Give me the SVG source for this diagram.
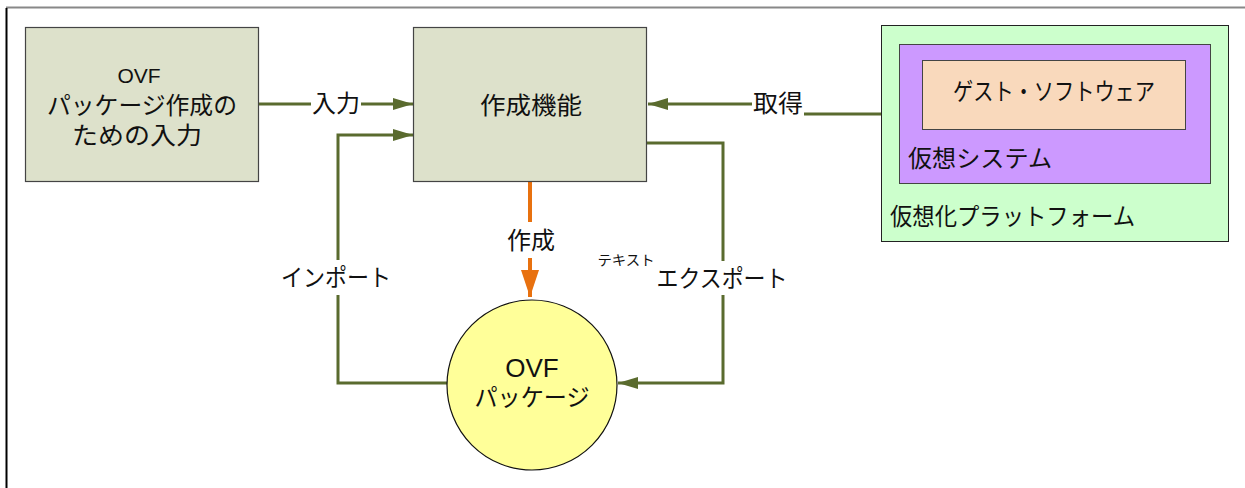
<svg xmlns="http://www.w3.org/2000/svg" width="1245" height="488" viewBox="0 0 1245 488">
<defs>
<style>
text{font-family:"Liberation Sans","Noto Sans CJK JP",sans-serif;fill:#111;font-size:24px;}
.mid{text-anchor:middle;}
.sm{font-size:14px;}
.ovf1{font-size:21px;}
.ovf2{font-size:26px;}
.box{fill:#dde1cb;stroke:#444;stroke-width:1.2;}
.g{fill:none;stroke:#5a6b2e;stroke-width:3;}
.o{fill:none;stroke:#e8710f;stroke-width:4;}
</style>
<marker id="ag" markerWidth="20" markerHeight="12" refX="20" refY="6" orient="auto" markerUnits="userSpaceOnUse">
<path d="M0,0 L20,6 L0,12 Z" fill="#5a6b2e"/>
</marker>
<marker id="ao" markerWidth="27" markerHeight="18" refX="27" refY="9" orient="auto" markerUnits="userSpaceOnUse">
<path d="M0,0 L27,9 L0,18 Z" fill="#e8710f"/>
</marker>
</defs>
<rect width="1245" height="488" fill="#fff"/>
<g id="frame">
<line x1="6" y1="7.5" x2="1245" y2="7.5" stroke="#888" stroke-width="2"/>
<line x1="6.5" y1="8" x2="6.5" y2="488" stroke="#000" stroke-width="2"/>
</g>
<g id="connectors">
<path class="g" d="M258,104 H311"/>
<path class="g" d="M361,104 H413" marker-end="url(#ag)"/>
<path class="g" d="M447,383 H338 V295"/>
<path class="g" d="M338,260 V135 H413" marker-end="url(#ag)"/>
<path class="g" d="M899,114 H804"/>
<path class="g" d="M752,104 H648" marker-end="url(#ag)"/>
<path class="g" d="M647,143 H723 V261"/>
<path class="g" d="M723,295 V383 H618" marker-end="url(#ag)"/>
<path class="o" d="M530,181 V222"/>
<path class="o" d="M530,258 V297" marker-end="url(#ao)"/>
<text class="mid" x="336" y="112" textLength="48" lengthAdjust="spacingAndGlyphs">入力</text>
<text class="mid" x="778" y="112" textLength="50" lengthAdjust="spacingAndGlyphs">取得</text>
<text class="mid" x="531" y="249" textLength="48" lengthAdjust="spacingAndGlyphs">作成</text>
<text class="mid" x="336" y="286" textLength="110" lengthAdjust="spacingAndGlyphs">インポート</text>
<text class="mid" x="722" y="287" textLength="131" lengthAdjust="spacingAndGlyphs">エクスポート</text>
<text class="mid sm" x="626" y="265" textLength="57" lengthAdjust="spacingAndGlyphs">テキスト</text>
</g>
<g id="node-input">
<rect class="box" x="25.5" y="27.5" width="233" height="154"/>
<text class="mid ovf1" x="139" y="83">OVF</text>
<text class="mid" x="142" y="114" textLength="190" lengthAdjust="spacingAndGlyphs">パッケージ作成の</text>
<text class="mid" x="137" y="144" textLength="130" lengthAdjust="spacingAndGlyphs">ための入力</text>
</g>
<g id="node-create">
<rect class="box" x="413.5" y="27.5" width="233" height="154"/>
<text class="mid" x="531" y="114" textLength="102" lengthAdjust="spacingAndGlyphs">作成機能</text>
</g>
<g id="node-platform">
<rect x="881.5" y="25.5" width="347" height="216" fill="#ccffcc" stroke="#222" stroke-width="1"/>
<text x="890" y="225" textLength="245" lengthAdjust="spacingAndGlyphs">仮想化プラットフォーム</text>
</g>
<g id="node-vsystem">
<rect x="899.5" y="44.5" width="311" height="139" fill="#cc99ff" stroke="#444" stroke-width="1"/>
<text x="908" y="167" textLength="144" lengthAdjust="spacingAndGlyphs">仮想システム</text>
</g>
<g id="node-guest">
<rect x="922.5" y="60.5" width="263" height="69" fill="#f9d9bc" stroke="#444" stroke-width="1"/>
<text class="mid" x="1054" y="100" textLength="202" lengthAdjust="spacingAndGlyphs">ゲスト・ソフトウェア</text>
</g>
<g id="node-package">
<circle cx="532" cy="385" r="85" fill="#ffff99" stroke="#111" stroke-width="1.2"/>
<text class="mid ovf2" x="532" y="377">OVF</text>
<text class="mid" x="532" y="406" textLength="115" lengthAdjust="spacingAndGlyphs">パッケージ</text>
</g>
</svg>
